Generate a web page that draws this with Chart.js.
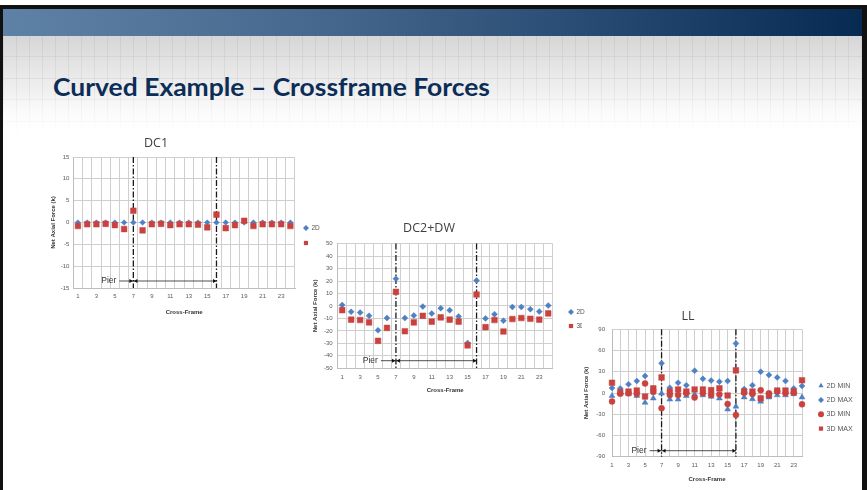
<!DOCTYPE html>
<html><head><meta charset="utf-8">
<script src="https://cdn.jsdelivr.net/npm/chart.js@4/dist/chart.umd.min.js"></script>
<style>
html,body{margin:0;padding:0;}
body{width:867px;height:490px;position:relative;overflow:hidden;background:#fff;font-family:'Liberation Sans',Arial,sans-serif;}
#frame{position:absolute;left:0;top:5px;width:859px;height:500px;border-left:3px solid #111;border-top:4px solid #111;border-right:5px solid #111;z-index:20;pointer-events:none;}
#header{position:absolute;left:3px;top:9px;width:859px;height:27px;background:linear-gradient(90deg,#5e82a5 0%,#48698f 35%,#2b4e76 65%,#062a52 100%);}
#band{position:absolute;left:3px;top:36px;width:859px;height:100px;
 background-image:
  linear-gradient(180deg,rgba(255,255,255,0) 0%,rgba(255,255,255,0) 55%,rgba(255,255,255,1) 100%),
  repeating-linear-gradient(90deg,rgba(0,0,0,0.05) 0 1px,transparent 1px 13px),
  repeating-linear-gradient(180deg,transparent 0 20px,rgba(0,0,0,0.05) 20px 21.5px),
  linear-gradient(180deg,#d6d6d6 0%,#ececec 45%,#fff 100%);}
#title{position:absolute;left:53px;top:71px;font-family:Lato,'Open Sans',sans-serif;font-weight:700;font-size:25px;line-height:30px;color:#0c2d57;white-space:nowrap;transform-origin:0 0;}
.ct{position:absolute;font-family:'Open Sans',sans-serif;font-size:12.5px;color:#404040;transform:translate(-50%,-50%);white-space:nowrap;z-index:10;}
canvas{position:absolute;background:#fff;}
</style></head>
<body>
<div id="header"></div>
<div id="band"></div>
<div id="title">Curved Example – Crossframe Forces</div>
<canvas id="dc1" width="290" height="190" style="left:40px;top:133px;z-index:1"></canvas>
<canvas id="dc2" width="297" height="165" style="left:308px;top:235px;z-index:2"></canvas>
<canvas id="ll" width="280" height="172" style="left:582px;top:318px;z-index:3"></canvas>
<div class="ct" style="left:156px;top:142px">DC1</div>
<div class="ct" style="left:429px;top:227px">DC2+DW</div>
<div class="ct" style="left:688px;top:315px">LL</div>
<div id="frame"></div>
<script>
// ---------- DATA ----------
const crossFrames = ['1','2','3','4','5','6','7','8','9','10','11','12','13','14','15','16','17','18','19','20','21','22','23','24'];
const shownFrameLabels = ['1','3','5','7','9','11','13','15','17','19','21','23'];
const pierFrames = ['7','16'];

const dc1Ticks = [-15,-10,-5,0,5,10,15];
const dc1_2D = [0,0,0,0,0,0,0,0,0,0,0,0,0,0,0,0,0,0,0,0,0,0,0,0];
const dc1_3D = [-0.8,-0.4,-0.4,-0.3,-0.6,-1.5,2.7,-1.8,-0.4,-0.3,-0.6,-0.4,-0.4,-0.5,-1.1,1.8,-1.3,-0.6,0.4,-0.8,-0.4,-0.4,-0.4,-0.8];

const dc2Ticks = [-50,-40,-30,-20,-10,0,10,20,30,40,50];
const dc2_2D = [0.8,-4.7,-5.3,-7.9,-19.5,-9.7,21.8,-9.7,-7.6,-0.5,-6,-1.8,-3.4,-8.4,-29.7,20.5,-10,-6.6,-11.8,-0.8,-0.8,-2.6,-4.5,0.3];
const dc2_3D = [-3.4,-11,-11.3,-13.2,-28,-17.6,11.3,-20.3,-13.2,-7.9,-12.6,-9.2,-11,-12.6,-31.6,9.2,-17,-11.3,-20.5,-10.5,-9.7,-10.3,-11,-6];

const llTicks = [-90,-60,-30,0,30,60,90];
const ll_2DMin = [-4,1,-1.5,-4,-13.5,-7.5,-0.5,-9,-9,-4,-2,-3,-5,-7.5,-23,-19,-6,-8.5,-12,-6,-3,-3,-1.5,-6];
const ll_2DMax = [7,6.5,12.5,17,24,5,42,7.5,14.5,11,31.5,20,17.5,16,17,70,5.5,11,30,25.5,22,17,6.5,10];
const ll_3DMin = [-12,-1,-0.5,-1.5,13.5,1.5,-21.5,-3,-3,-0.5,-6.5,-0.5,-3,-2,-15.5,-31,0.5,-1.5,4,-0.5,2,-0.5,0.5,-16];
const ll_3DMax = [14.5,1,2,3.5,-5,6.5,22,2,5,2,5,5,4,6.5,-3.5,32,2,2,-7.5,-3,3.5,3.5,2,18];

// ---------- STYLE ----------
const BLUE = '#4e80c4', RED = '#c9423f';
const FONT = "'Liberation Sans', Arial, sans-serif";

function drawMarker(ctx, style, r, x, y, color){
  ctx.save(); ctx.fillStyle = color; ctx.beginPath();
  if (style === 'rect'){ const s = Math.SQRT1_2*r; ctx.rect(x-s,y-s,2*s,2*s); }
  else if (style === 'rectRot'){ ctx.moveTo(x-r,y); ctx.lineTo(x,y-r); ctx.lineTo(x+r,y); ctx.lineTo(x,y+r); ctx.closePath(); }
  else if (style === 'triangle'){ ctx.moveTo(x,y-r); ctx.lineTo(x+r*0.866,y+r*0.5); ctx.lineTo(x-r*0.866,y+r*0.5); ctx.closePath(); }
  else { ctx.arc(x,y,r,0,Math.PI*2); }
  ctx.fill(); ctx.restore();
}

const pierPlugin = {
  id: 'pier',
  beforeDatasetsDraw(chart, args, o){
    const {ctx, chartArea:a, scales:{x}} = chart;
    ctx.save();
    ctx.strokeStyle = '#1a1a1a'; ctx.lineWidth = 1.3; ctx.setLineDash([6,2,1.5,2]);
    o.frames.forEach(f => {
      const px = x.getPixelForValue(crossFrames.indexOf(f));
      ctx.beginPath(); ctx.moveTo(px, a.top); ctx.lineTo(px, a.bottom); ctx.stroke();
    });
    ctx.restore();
  },
  afterDatasetsDraw(chart, args, o){
    const {ctx, chartArea:a, scales:{x}} = chart;
    const x1 = x.getPixelForValue(crossFrames.indexOf(o.frames[0]));
    const x2 = x.getPixelForValue(crossFrames.indexOf(o.frames[1]));
    const y = a.bottom - o.dy;
    ctx.save();
    ctx.fillStyle = '#333'; ctx.font = '8.5px ' + FONT; ctx.textAlign = 'right'; ctx.textBaseline = 'middle';
    ctx.fillText(o.text, x1 - o.gap, y);
    ctx.strokeStyle = '#222'; ctx.fillStyle = '#111'; ctx.lineWidth = 0.8;
    ctx.beginPath(); ctx.moveTo(x1 - o.gap + 3, y); ctx.lineTo(x1, y); ctx.moveTo(x1, y); ctx.lineTo(x2, y); ctx.stroke();
    const head = (px, dir) => { ctx.beginPath(); ctx.moveTo(px, y); ctx.lineTo(px - dir*3.5, y-2); ctx.lineTo(px - dir*3.5, y+2); ctx.closePath(); ctx.fill(); };
    head(x1 - 0.5, 1); head(x1 + 0.5, -1); head(x2, 1);
    ctx.restore();
  }
};

const legendPlugin = {
  id: 'posLegend',
  afterDraw(chart, args, o){
    const ctx = chart.ctx;
    ctx.save();
    ctx.font = o.fontSize + 'px ' + FONT; ctx.fillStyle = '#555'; ctx.textBaseline = 'middle'; ctx.textAlign = 'left';
    chart.data.datasets.forEach((ds, i) => {
      const y = o.y + i * o.gap;
      drawMarker(ctx, ds.pointStyle, o.r, o.x, y, ds.backgroundColor);
      ctx.fillText(ds.label, o.x + o.r + 2.5, y);
    });
    ctx.restore();
  }
};

function makeChart(id, datasets, ticks, cfg){
  return new Chart(document.getElementById(id), {
    type: 'line',
    data: { labels: crossFrames, datasets: datasets.map(d => ({
      label: d.label, data: d.data, showLine: false,
      pointStyle: d.style, pointRadius: d.r, pointHoverRadius: d.r,
      backgroundColor: d.color, borderColor: d.color, pointBorderWidth: 0.5, order: d.order
    })) },
    plugins: [pierPlugin, legendPlugin],
    options: {
      responsive: false, animation: false, devicePixelRatio: 1,
      layout: { padding: cfg.padding },
      plugins: {
        legend: { display: false }, tooltip: { enabled: false }, title: { display: false },
        pier: { frames: pierFrames, text: 'Pier', dy: cfg.pierDy, gap: cfg.pierGap },
        posLegend: cfg.legend
      },
      scales: {
        x: {
          offset: cfg.offset,
          grid: { offset: cfg.offset, color: '#cfcfcf', drawTicks: false },
          border: { color: '#bdbdbd' },
          ticks: { autoSkip: false, maxRotation: 0, padding: 5, color: '#595959', font: { family: FONT, size: 6 },
            callback: (v, i) => shownFrameLabels.includes(crossFrames[i]) ? crossFrames[i] : '' },
          title: { display: true, text: 'Cross-Frame', color: '#333', font: { family: FONT, size: 6, weight: 'bold' }, padding: { top: 0, bottom: cfg.xTitlePad } },
          afterFit: s => { s.height = cfg.xH; }
        },
        y: {
          min: ticks[0], max: ticks[ticks.length - 1],
          afterBuildTicks: s => { s.ticks = ticks.map(v => ({ value: v })); },
          grid: { color: '#cfcfcf', drawTicks: false },
          border: { color: '#bdbdbd' },
          ticks: { padding: cfg.yTickPad, color: '#595959', font: { family: FONT, size: 6 } },
          title: { display: true, text: 'Net Axial Force (k)', color: '#333', font: { family: FONT, size: 6, weight: 'bold' }, padding: { top: cfg.yTitlePad, bottom: 0 } },
          afterFit: s => { s.width = cfg.yW; }
        }
      }
    }
  });
}

makeChart('dc1', [
  { label: '2D', data: dc1_2D, style: 'rectRot', r: 2.8, color: BLUE, order: 1 },
  { label: '3D', data: dc1_3D, style: 'rect', r: 4, color: RED, order: 0 }
], dc1Ticks, { padding: { left: 0, right: 35, top: 24, bottom: 0 }, yW: 33.3, xH: 35, offset: true,
  xTitlePad: 7.4, yTitlePad: 9.4, yTickPad: 4, pierDy: 7, pierGap: 17,
  legend: { x: 266, y: 95, gap: 15, r: 3, fontSize: 6.5 } });

makeChart('dc2', [
  { label: '2D', data: dc2_2D, style: 'rectRot', r: 3, color: BLUE, order: 1 },
  { label: '3D', data: dc2_3D, style: 'rect', r: 4, color: RED, order: 0 }
], dc2Ticks, { padding: { left: 0, right: 52.3, top: 6.7, bottom: 0 }, yW: 29.7, xH: 31.7, offset: true,
  xTitlePad: 6.4, yTitlePad: 3.4, yTickPad: 5, pierDy: 7.6, pierGap: 18,
  legend: { x: 263, y: 77, gap: 14, r: 3, fontSize: 6.5 } });

makeChart('ll', [
  { label: '2D MIN', data: ll_2DMin, style: 'triangle', r: 3.4, color: BLUE, order: 3 },
  { label: '2D MAX', data: ll_2DMax, style: 'rectRot', r: 3, color: BLUE, order: 2 },
  { label: '3D MIN', data: ll_3DMin, style: 'circle', r: 3, color: RED, order: 1 },
  { label: '3D MAX', data: ll_3DMax, style: 'rect', r: 4, color: RED, order: 0 }
], llTicks, { padding: { left: 0, right: 60, top: 11.3, bottom: 0 }, yW: 30, xH: 33.3, offset: false,
  xTitlePad: 7.4, yTitlePad: 1.1, yTickPad: 7, pierDy: 6, pierGap: 15,
  legend: { x: 239, y: 67.7, gap: 14.3, r: 3, fontSize: 7 } });

// fit slide title width
const t = document.getElementById('title');
const w = t.getBoundingClientRect().width;
t.style.transform = 'scaleX(' + (437 / w) + ')';
</script>
</body></html>
